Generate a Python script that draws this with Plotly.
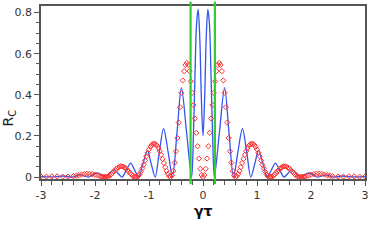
import plotly.graph_objects as go

# ---- data ----
# blue curve (positive half, mirrored for negative gamma*tau)
blue_x_half = [0.0, 0.03, 0.06, 0.09, 0.12, 0.15, 0.18, 0.21, 0.305, 0.40, 0.48, 0.565,
               0.645, 0.73, 0.81, 0.885, 0.96, 1.03, 1.11, 1.19, 1.265, 1.34, 1.42, 1.50,
               1.575, 1.65, 1.73, 1.81, 1.96, 2.12, 2.27, 2.43, 2.58, 2.74, 3.0]
blue_y_half = [0.20, 0.38, 0.68, 0.815, 0.74, 0.48, 0.18, 0.0, 0.22, 0.435, 0.22, 0.0,
               0.12, 0.235, 0.12, 0.0, 0.065, 0.13, 0.065, 0.0, 0.034, 0.068, 0.034, 0.0,
               0.018, 0.036, 0.018, 0.0, 0.02, 0.0, 0.01, 0.0, 0.005, 0.001, 0.002]

# red diamonds (positive half, mirrored)
red_x_half = [0.000, 0.025, 0.050, 0.075, 0.100, 0.125, 0.150, 0.175, 0.200, 0.225,
              0.250, 0.275, 0.300, 0.325, 0.350, 0.375, 0.400, 0.425, 0.450, 0.475,
              0.500, 0.525, 0.550, 0.575, 0.600, 0.625, 0.650, 0.675, 0.700, 0.725,
              0.750, 0.775, 0.800, 0.825, 0.850, 0.875, 0.900, 0.925, 0.950, 0.975,
              1.000, 1.025, 1.050, 1.075, 1.100, 1.125, 1.150, 1.175, 1.200, 1.225,
              1.250, 1.275, 1.300, 1.325, 1.350, 1.375, 1.400, 1.425, 1.450, 1.475,
              1.500, 1.525, 1.550, 1.575, 1.600, 1.625, 1.650, 1.675, 1.700, 1.725,
              1.750, 1.775, 1.800, 1.825, 1.850, 1.875, 1.900, 1.950, 2.000, 2.050,
              2.100, 2.150, 2.200, 2.250, 2.300, 2.350, 2.400, 2.500, 2.600, 2.700,
              2.800, 2.900, 3.000]
red_y_half = [0.000, 0.010, 0.040, 0.090, 0.150, 0.215, 0.285, 0.350, 0.410, 0.465,
              0.515, 0.545, 0.555, 0.545, 0.515, 0.470, 0.410, 0.340, 0.265, 0.190,
              0.125, 0.070, 0.030, 0.008, 0.000, 0.004, 0.015, 0.030, 0.048, 0.068,
              0.088, 0.108, 0.126, 0.141, 0.152, 0.159, 0.162, 0.161, 0.156, 0.147,
              0.134, 0.118, 0.100, 0.080, 0.060, 0.042, 0.026, 0.013, 0.005, 0.001,
              0.000, 0.002, 0.006, 0.012, 0.019, 0.027, 0.034, 0.041, 0.046, 0.050,
              0.052, 0.052, 0.050, 0.046, 0.041, 0.034, 0.027, 0.020, 0.013, 0.008,
              0.004, 0.001, 0.000, 0.000, 0.001, 0.002, 0.003, 0.007, 0.011, 0.014,
              0.016, 0.016, 0.015, 0.012, 0.009, 0.006, 0.004, 0.002, 0.002, 0.003,
              0.003, 0.002, 0.002]

green_lines_x = [-0.23, 0.22]

x_tick_vals = [-3, -2, -1, 0, 1, 2, 3]
x_tick_text = ["-3", "-2", "-1", "0", "1", "2", "3"]
y_tick_vals = [0, 0.2, 0.4, 0.6, 0.8]
y_tick_text = ["0", "0.2", "0.4", "0.6", "0.8"]


def mirror(xs, ys):
    mx = [-v for v in reversed(xs[1:])] + list(xs)
    my = list(reversed(ys[1:])) + list(ys)
    return mx, my


bx, by = mirror(blue_x_half, blue_y_half)
rx, ry = mirror(red_x_half, red_y_half)

fig = go.Figure()
fig.add_trace(go.Scatter(x=bx, y=by, mode="lines",
                         line=dict(color="#3355ee", width=1.3, shape="spline", smoothing=0.9),
                         showlegend=False))
fig.add_trace(go.Scatter(x=rx, y=ry, mode="markers",
                         marker=dict(symbol="diamond-open", color="#ff3030", size=4,
                                     line=dict(width=1, color="#ff3030")),
                         showlegend=False))

for gx in green_lines_x:
    fig.add_shape(type="line", xref="x", yref="paper", x0=gx, x1=gx, y0=-0.03, y1=1.025,
                  line=dict(color="#33cc33", width=2.2))

axis_common = dict(showline=True, linecolor="#555555", linewidth=1.5, mirror=True,
                   ticks="outside", tickcolor="#555555", showgrid=False, zeroline=False,
                   tickfont=dict(family="DejaVu Sans", size=11, color="#333333"))

fig.update_xaxes(range=[-3, 3], tickvals=x_tick_vals, ticktext=x_tick_text, ticklen=5,
                 minor=dict(dtick=0.2, ticks="outside", ticklen=4, tickcolor="#555555"),
                 **axis_common)
fig.update_yaxes(range=[-0.0096, 0.832], tickvals=y_tick_vals, ticktext=y_tick_text, ticklen=5,
                 minor=dict(dtick=0.05, ticks="outside", ticklen=3, tickcolor="#555555"),
                 **axis_common)

fig.add_annotation(text="R<sub>C</sub>", xref="paper", yref="paper", x=-0.099, y=0.355,
                   xanchor="center", yanchor="middle",
                   textangle=-90, showarrow=False,
                   font=dict(family="DejaVu Sans", size=14, color="#222222"))
fig.add_annotation(text="<b>γτ</b>", xref="paper", yref="paper", x=0.5, y=-0.185,
                   xanchor="center", yanchor="middle",
                   showarrow=False,
                   font=dict(family="DejaVu Sans", size=14, color="#111111"))

fig.update_layout(width=381, height=244, margin=dict(l=41, r=16, t=4, b=65),
                  paper_bgcolor="white", plot_bgcolor="white")

fig.write_html("out.html", config={"displayModeBar": False},
               post_script="document.body.style.margin='0';")
